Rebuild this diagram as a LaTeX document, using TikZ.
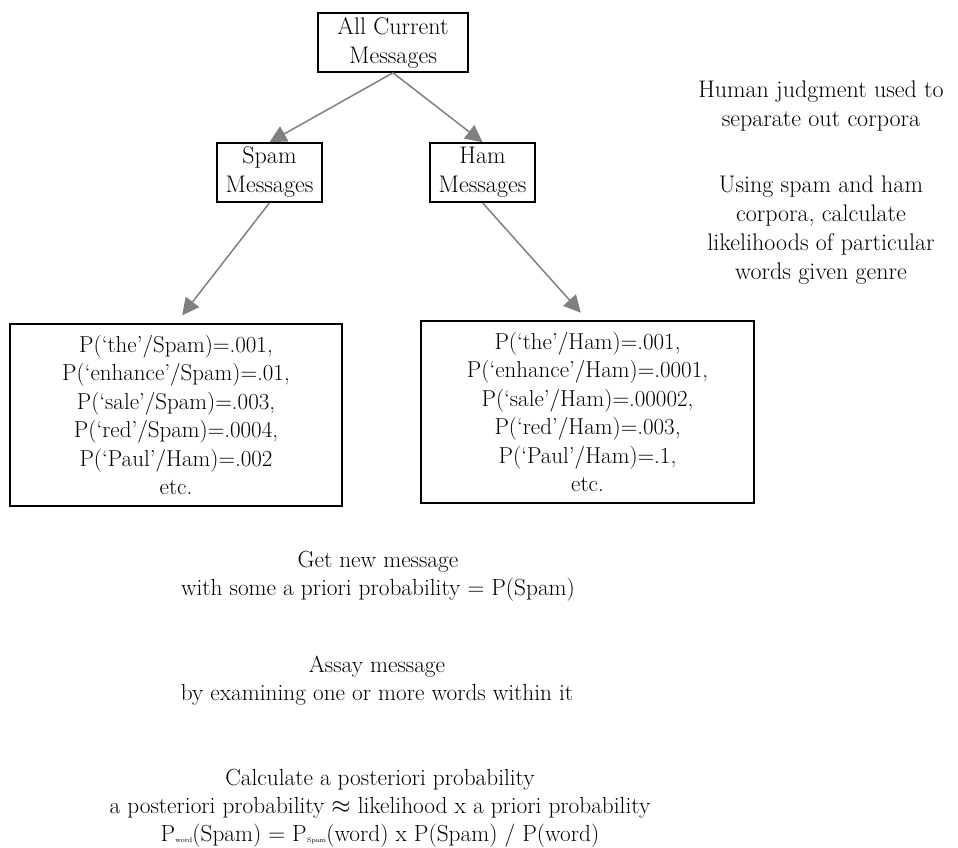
\documentclass[tikz,border=0pt]{standalone}
\usepackage{fontspec}
\usetikzlibrary{arrows.meta}
\definecolor{arrowgray}{HTML}{808080}
\tikzset{
  labelbox/.style={draw=black, line width=1.6pt, align=center, inner sep=0pt,
    font=\fontsize{24}{29}\selectfont},
  probbox/.style={draw=black, line width=1.6pt, align=center, inner sep=0pt,
    font=\fontsize{23}{28.5}\selectfont},
  plaintext/.style={align=center, inner sep=0pt, font=\fontsize{24}{29}\selectfont},
  bottomtext/.style={align=center, inner sep=0pt, font=\fontsize{23.3}{28}\selectfont},
  conn/.style={draw=arrowgray, line width=1.5pt, -{Triangle[length=17pt,width=17pt]}}
}
\newcommand{\tinysub}[1]{\raisebox{-1pt}{\fontsize{7}{7}\selectfont #1}}
\begin{document}
\begin{tikzpicture}[x=1pt,y=-1pt]
\useasboundingbox (0,0) rectangle (958,848);
% boxes
\node[labelbox, minimum width=150pt, minimum height=59pt] (all) at (393,42.5) {All Current\\Messages};
\node[labelbox, minimum width=105pt, minimum height=59pt] (spam) at (269.5,172.5) {Spam\\Messages};
\node[labelbox, minimum width=105pt, minimum height=59pt] (ham) at (482.5,172.5) {Ham\\Messages};
\node[probbox, minimum width=332pt, minimum height=182pt] (sprob) at (176,415)
  {P(‘the’/Spam)=.001,\\P(‘enhance’/Spam)=.01,\\P(‘sale’/Spam)=.003,\\P(‘red’/Spam)=.0004,\\P(‘Paul’/Ham)=.002\\etc.};
\node[probbox, minimum width=333pt, minimum height=182pt] (hprob) at (587.5,412)
  {P(‘the’/Ham)=.001,\\P(‘enhance’/Ham)=.0001,\\P(‘sale’/Ham)=.00002,\\P(‘red’/Ham)=.003,\\P(‘Paul’/Ham)=.1,\\etc.};
% connectors
\draw[conn] (all.south) -- (spam.north);
\draw[conn] (all.south) -- (ham.north);
\draw[conn, shorten >=10pt] (spam.south) -- (sprob.north);
\draw[conn, shorten >=10pt] (ham.south) -- (hprob.north);
% right-hand notes
\node[plaintext] (note1) at (821,106.5) {Human judgment used to\\separate out corpora};
\node[plaintext] (note2) at (821,230.5) {Using spam and ham\\corpora, calculate\\likelihoods of particular\\words given genre};
% bottom notes
\node[bottomtext] (get) at (378,576) {Get new message\\with some a priori probability = P(Spam)};
\node[bottomtext] (assay) at (377,681) {Assay message\\by examining one or more words within it};
\node[bottomtext] (calc) at (380,808) {Calculate a posteriori probability\\a posteriori probability $\approx$ likelihood x a priori probability\\P\tinysub{word}(Spam) = P\tinysub{Spam}(word) x P(Spam) / P(word)};
\end{tikzpicture}
\end{document}
